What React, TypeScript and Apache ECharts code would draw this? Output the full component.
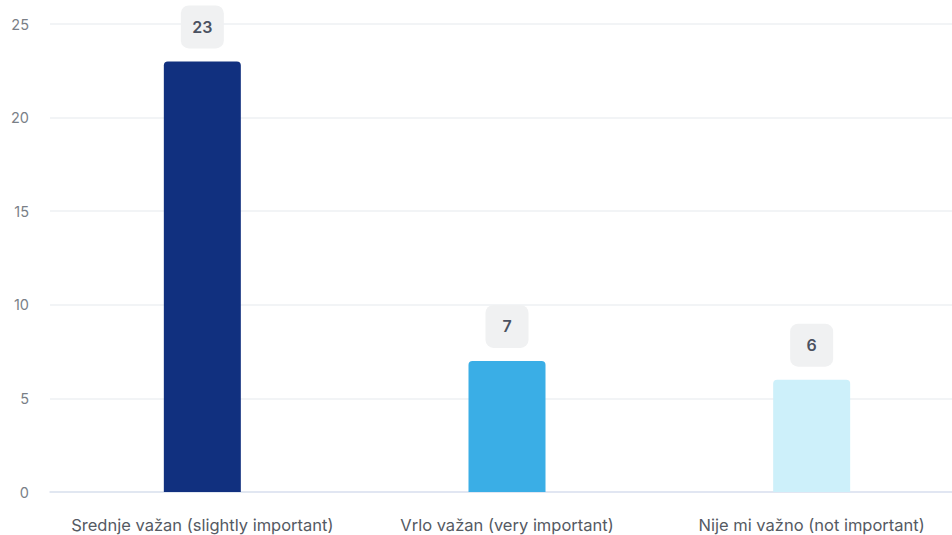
import React, { useEffect, useRef } from "react";
import * as echarts from "echarts";

const categories = [
  "Srednje važan (slightly important)",
  "Vrlo važan (very important)",
  "Nije mi važno (not important)",
];
const values = [23, 7, 6];
const barColors = ["#11307f", "#3aaee6", "#cdf0fa"];
const yTicks = { min: 0, max: 25, interval: 5 };

export default function App() {
  const ref = useRef<HTMLDivElement>(null);
  useEffect(() => {
    if (!ref.current) return;
    const chart = echarts.init(ref.current, undefined, { renderer: "svg" });
    chart.setOption({
      animation: false,
      textStyle: { fontFamily: "Inter" },
      grid: { left: 50, right: 0, top: 24, bottom: 43, containLabel: false },
      xAxis: {
        type: "category",
        data: categories,
        axisLine: { lineStyle: { color: "#dbe2f0", width: 1.5 } },
        axisTick: { show: false },
        axisLabel: { color: "#555a63", fontSize: 16.5, margin: 24, interval: 0, fontFamily: "Inter" },
      },
      yAxis: {
        type: "value",
        min: yTicks.min,
        max: yTicks.max,
        interval: yTicks.interval,
        axisLine: { show: false },
        axisTick: { show: false },
        splitLine: { lineStyle: { color: "#eef0f3", width: 1.5 } },
        axisLabel: { color: "#7a7f87", fontSize: 14.5, margin: 21, fontFamily: "Inter" },
      },
      series: [
        {
          type: "bar",
          barWidth: 77,
          data: values.map((v, i) => ({
            value: v,
            itemStyle: { color: barColors[i], borderRadius: [4, 4, 0, 0] },
          })),
          label: {
            show: true,
            position: "top",
            distance: 13,
            backgroundColor: "#f0f1f2",
            borderRadius: 8,
            width: 43,
            height: 43,
            lineHeight: 43,
            align: "center",
            fontSize: 16,
            fontWeight: 600,
            color: "#4b5161",
            fontFamily: "Inter",
          },
        },
      ],
    });
    return () => chart.dispose();
  }, []);
  return (
    <div
      ref={ref}
      style={{ position: "fixed", left: 0, top: 0, width: 964, height: 535, background: "#fff" }}
    />
  );
}
